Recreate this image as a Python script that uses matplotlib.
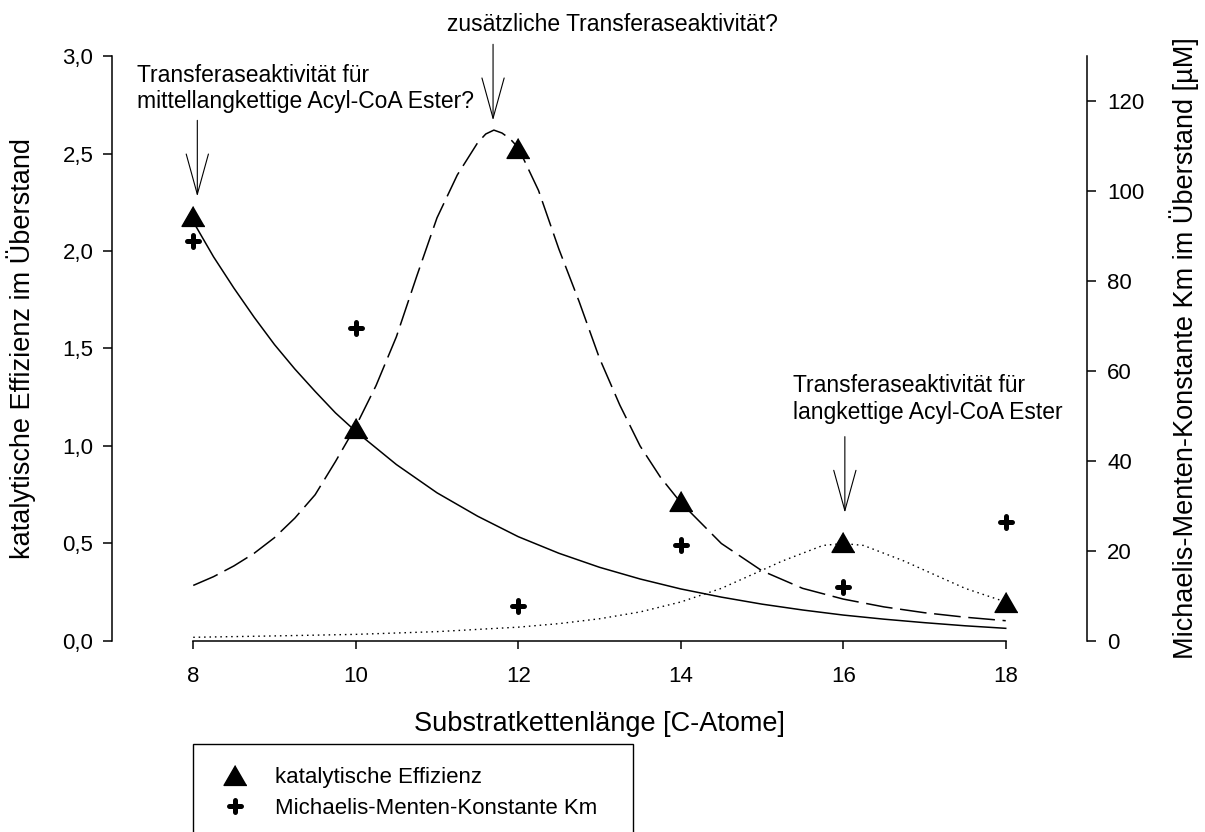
import matplotlib
matplotlib.use("Agg")
import matplotlib.pyplot as plt
from matplotlib.lines import Line2D
from matplotlib.markers import MarkerStyle
from matplotlib.patches import Rectangle

plt.rcParams['font.family'] = ['Liberation Sans', 'DejaVu Sans']

# Messpunkte
kettenlaenge = [8, 10, 12, 14, 16, 18]
effizienz = [2.18, 1.09, 2.53, 0.72, 0.51, 0.20]
km_wert = [89.0, 69.6, 7.8, 21.3, 12.1, 26.4]

solid_x = [8.0, 8.25, 8.5, 8.75, 9.0, 9.25, 9.5, 9.75, 10.0, 10.5, 11.0, 11.5, 12.0, 12.5,
           13.0, 13.5, 14.0, 14.5, 15.0, 15.5, 16.0, 16.5, 17.0, 17.5, 18.0]
solid_y = [2.15, 1.97, 1.81, 1.66, 1.52, 1.395, 1.28, 1.17, 1.075, 0.905, 0.76, 0.64, 0.535, 0.45,
           0.378, 0.318, 0.267, 0.225, 0.189, 0.159, 0.133, 0.112, 0.094, 0.078, 0.065]

dash_x = [8.0, 8.25, 8.5, 8.75, 9.0, 9.25, 9.5, 9.75, 10.0, 10.25, 10.5, 10.75, 11.0, 11.25,
          11.5, 11.6, 11.7, 11.8, 11.9, 12.0, 12.25, 12.5, 12.75, 13.0, 13.25, 13.5, 13.75,
          14.0, 14.5, 15.0, 15.5, 16.0, 16.5, 17.0, 17.5, 18.0]
dash_y = [0.285, 0.33, 0.385, 0.45, 0.53, 0.63, 0.75, 0.92, 1.10, 1.31, 1.56, 1.87, 2.17, 2.39,
          2.555, 2.60, 2.62, 2.605, 2.575, 2.53, 2.31, 2.01, 1.74, 1.45, 1.21, 1.00, 0.84,
          0.71, 0.50, 0.36, 0.27, 0.215, 0.175, 0.145, 0.122, 0.104]

dot_x = [8.0, 9.0, 10.0, 11.0, 12.0, 12.5, 13.0, 13.5, 14.0, 14.5, 15.0, 15.25, 15.5, 15.75,
         16.0, 16.25, 16.5, 16.75, 17.0, 17.5, 18.0]
dot_y = [0.019, 0.026, 0.034, 0.048, 0.071, 0.089, 0.114, 0.149, 0.20, 0.27, 0.363, 0.41, 0.45,
         0.49, 0.50, 0.49, 0.45, 0.41, 0.363, 0.27, 0.20]

y_ticks = [0.0, 0.5, 1.0, 1.5, 2.0, 2.5, 3.0]
y_ticklabels = ["0,0", "0,5", "1,0", "1,5", "2,0", "2,5", "3,0"]
y2_ticks = [0, 20, 40, 60, 80, 100, 120]

fig = plt.figure(figsize=(12.05, 8.32), dpi=100)
ax = fig.add_axes([0.09295, 0.22957, 0.8091, 0.70312])
ax2 = ax.twinx()

ax.plot(solid_x, solid_y, color='k', lw=1.1)
ax.plot(dash_x, dash_y, color='k', lw=1.1, dashes=(17.5, 5))
ax.plot(dot_x, dot_y, color='k', lw=1.0, dashes=(1.1, 2.8))

tri = [(0, 0.433), (-0.5, -0.433), (0.5, -0.433)]
plus = MarkerStyle('+', capstyle='round')
ax.plot(kettenlaenge, effizienz, ls='none', marker=tri, ms=16.5, color='k', zorder=5)
ax2.plot(kettenlaenge, km_wert, ls='none', marker=plus, ms=8, mew=3.6, color='k', zorder=5)

ax.set_xlim(7, 19)
ax.set_ylim(0, 3.0)
ax2.set_ylim(0, 130)

ax.set_xticks(kettenlaenge)
ax.set_yticks(y_ticks)
ax.set_yticklabels(y_ticklabels)
ax2.set_yticks(y2_ticks)

for a in (ax, ax2):
    a.spines['top'].set_visible(False)
    for s in a.spines.values():
        s.set_linewidth(1.1)
ax.spines['right'].set_visible(False)
ax2.spines['left'].set_visible(False)
ax2.spines['bottom'].set_visible(False)
ax.spines['bottom'].set_bounds(8, 18)

ax.tick_params(axis='y', direction='out', length=6.5, width=1.1, labelsize=16, pad=7)
ax.tick_params(axis='x', direction='out', length=6, width=1.1, labelsize=16, pad=12)
ax2.tick_params(axis='y', direction='out', length=6.5, width=1.1, labelsize=16, pad=8)

ax.set_xlabel("Substratkettenlänge [C-Atome]", fontsize=19.5)
ax.xaxis.set_label_coords(0.5, -0.12)
ax.set_ylabel("katalytische Effizienz im Überstand", fontsize=19.5)
ax.yaxis.set_label_coords(-0.078, 0.5)
ax2.set_ylabel("Michaelis-Menten-Konstante Km im Überstand [µM]", fontsize=19.5)
ax2.yaxis.set_label_coords(1.084, 0.5)

# Pfeile und Beschriftungen
arrow = dict(arrowstyle='->,head_length=2.9,head_width=0.8', lw=0.8, color='k',
             mutation_scale=10, shrinkA=0, shrinkB=0)
ax.annotate('', xy=(8.05, 2.28), xytext=(8.05, 2.67), arrowprops=arrow)
ax.annotate('', xy=(11.69, 2.67), xytext=(11.69, 3.06), arrowprops=arrow, annotation_clip=False)
ax.annotate('', xy=(16.02, 0.658), xytext=(16.02, 1.048), arrowprops=arrow)

ax.text(7.31, 2.833, "Transferaseaktivität für\nmittellangkettige Acyl-CoA Ester?",
        fontsize=16.5, ha='left', va='center')
ax.text(13.16, 3.159, "zusätzliche Transferaseaktivität?", fontsize=16.5,
        ha='center', va='center', clip_on=False)
ax.text(15.38, 1.241, "Transferaseaktivität für\nlangkettige Acyl-CoA Ester",
        fontsize=16.5, ha='left', va='center')

# Legende
handles = [Line2D([], [], ls='none', marker=tri, ms=16.5, color='k'),
           Line2D([], [], ls='none', marker=plus, ms=8, mew=3.6, color='k')]
fig.legend(handles, ["katalytische Effizienz", "Michaelis-Menten-Konstante Km"],
           loc='upper left', bbox_to_anchor=(223.9 / 1205, 1 - 767 / 832),
           frameon=False, fontsize=16, handlelength=1.0, handletextpad=1.3,
           borderpad=0, borderaxespad=0, labelspacing=0.43)
fig.add_artist(Rectangle((193 / 1205, -0.0096), 440 / 1205, 0.1154,
                         transform=fig.transFigure, fill=False, lw=1.0, color='k'))

fig.savefig("out.png", dpi=100)
